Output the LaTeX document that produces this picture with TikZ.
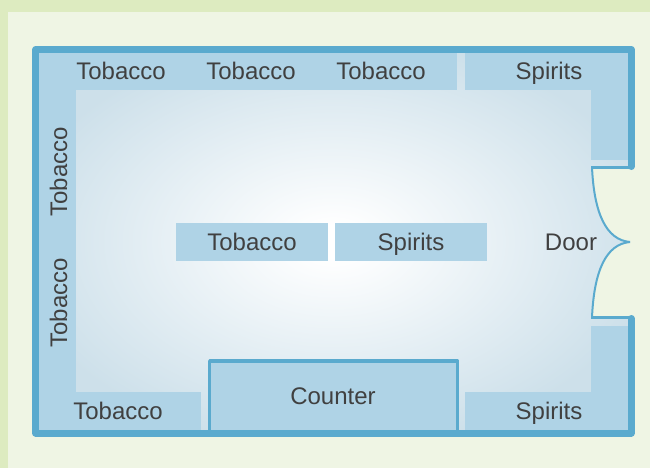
\documentclass[tikz,border=0pt]{standalone}
\usepackage{fontspec}
\setmainfont{Liberation Sans}
\definecolor{bandc}{HTML}{DDEBC0}
\definecolor{panelc}{HTML}{EFF5E4}
\definecolor{wallc}{HTML}{5AAACE}
\definecolor{shelfc}{HTML}{AFD3E6}
\definecolor{edgec}{HTML}{CDE0EA}
\definecolor{textc}{HTML}{404040}
\pgfdeclareradialshading{floorshade}{\pgfpoint{0bp}{0bp}}{%
  color(0bp)=(white); color(2bp)=(white); color(27bp)=(edgec); color(100bp)=(edgec)}
\tikzset{
  shelf/.style={fill=shelfc,draw=none},
  wall/.style={draw=wallc,line width=7pt,line join=round,line cap=round},
  doorline/.style={draw=wallc,line width=2pt},
  doorjamb/.style={draw=wallc,line width=3pt},
  counterbox/.style={fill=shelfc,draw=wallc,line width=3.2pt,line join=round},
  label/.style={text=textc,font=\fontsize{24}{26}\selectfont,inner sep=0pt,anchor=base},
}
\begin{document}
\begin{tikzpicture}[x=1pt,y=-1pt]
\useasboundingbox (0,0) rectangle (650,468);
\fill[bandc] (0,0) rectangle (650,468);
\fill[panelc] (8,12) rectangle (650,468);
% floor with the door bay
\path[shading=floorshade] (36,50) -- (630,50) -- (630,167) -- (592,167)
  .. controls (594,213) and (606,240) .. (630,242)
  .. controls (606,244) and (594,271) .. (592,317)
  -- (630,317) -- (630,433) -- (36,433) -- cycle;
% shelves
\fill[shelf] (36,50) rectangle (457,90);
\fill[shelf] (36,50) rectangle (76,433);
\fill[shelf] (36,392) rectangle (201,433);
\fill[shelf] (465,50) rectangle (630,90);
\fill[shelf] (591,50) rectangle (630,160);
\fill[shelf] (465,392) rectangle (630,433);
\fill[shelf] (591,326) rectangle (630,433);
\fill[shelf] (176,223) rectangle (328,261);
\fill[shelf] (335,223) rectangle (487,261);
% counter
\draw[counterbox] (209.6,431) -- (209.6,361) -- (457.7,361) -- (457.7,431);
\fill[shelf] (211.2,362.6) rectangle (456.1,431);
% door
\coordinate (doortip) at (630,242);
\coordinate (jambtop) at (592,167);
\coordinate (jambbot) at (592,317.5);
\draw[doorline] (jambtop) .. controls (594,213) and (606,240) .. (doortip);
\draw[doorline] (jambbot) .. controls (594,271) and (606,244) .. (doortip);
\draw[doorjamb] (591,167) -- (631,167);
\draw[doorjamb] (591,317.5) -- (631,317.5);
% walls
\draw[wall] (631.2,166.5) -- (631.2,49.5) -- (35.8,49.5) -- (35.8,433) -- (631.2,433) -- (631.2,318.5);
% labels
\node[label] (t1) at (121,80) {Tobacco};
\node[label] (t2) at (251,80) {Tobacco};
\node[label] (t3) at (381,80) {Tobacco};
\node[label] (s1) at (549,80) {Spirits};
\node[label,rotate=90] (t4) at (67,172) {Tobacco};
\node[label,rotate=90] (t5) at (67,303) {Tobacco};
\node[label] (t6) at (252,250) {Tobacco};
\node[label] (s2) at (411,250) {Spirits};
\node[label] (d1) at (571,250) {Door};
\node[label] (c1) at (333,404) {Counter};
\node[label] (t7) at (118,419) {Tobacco};
\node[label] (s3) at (549,419) {Spirits};
\end{tikzpicture}
\end{document}
